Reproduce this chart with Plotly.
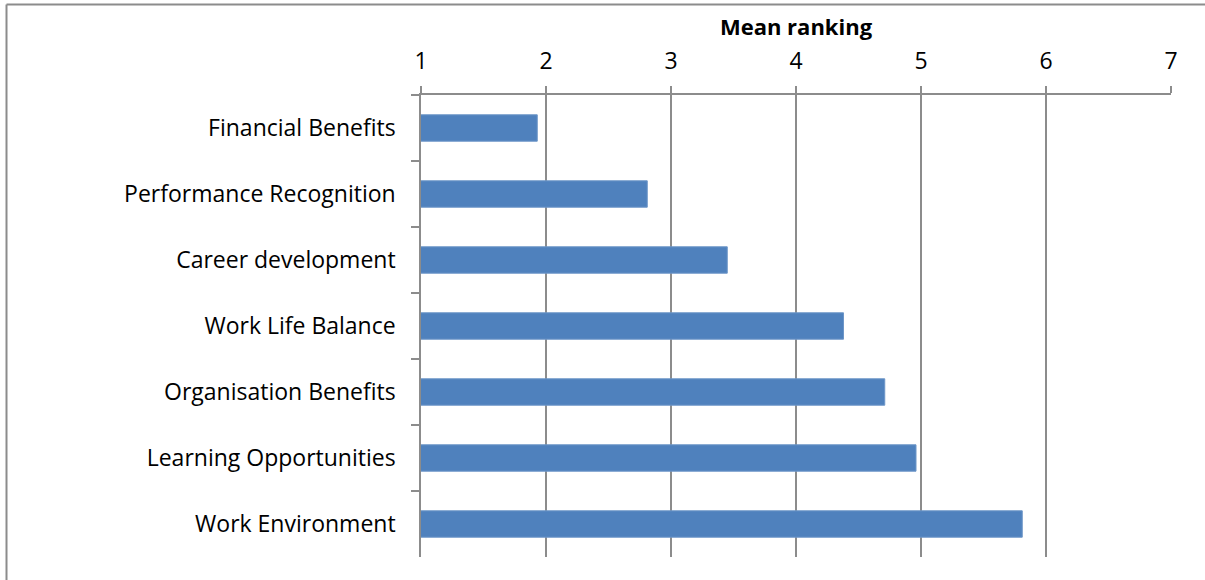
import plotly.graph_objects as go

categories = [
    "Financial Benefits",
    "Performance Recognition",
    "Career development",
    "Work Life Balance",
    "Organisation Benefits",
    "Learning Opportunities",
    "Work Environment",
]
mean_ranking = [1.93, 2.81, 3.45, 4.38, 4.71, 4.96, 5.81]
x_ticks = [1, 2, 3, 4, 5, 6, 7]

W, H = 1205, 580
L, R, T, B = 421, 34, 95, 23
pw, ph = W - L - R, H - T - B

def px_x(p):
    return (p - L) / pw

def px_y(p):
    return (H - B - p) / ph

GRAY = "#8c8c8c"
FONT = "'Open Sans', 'Noto Sans', sans-serif"
FS = 23

fig = go.Figure(
    go.Bar(
        x=mean_ranking,
        y=categories,
        orientation="h",
        marker=dict(color="#4f81bd", line=dict(color="#6d96c8", width=1)),
        width=0.4,
    )
)

fig.update_layout(
    width=W,
    height=H,
    margin=dict(l=L, r=R, t=T, b=B, autoexpand=False),
    paper_bgcolor="white",
    plot_bgcolor="white",
    showlegend=False,
    font=dict(family=FONT, size=FS, color="black"),
    xaxis=dict(
        side="top",
        range=[1, 7],
        tickvals=x_ticks,
        ticktext=[str(v) for v in x_ticks],
        showgrid=True,
        gridcolor=GRAY,
        gridwidth=1.5,
        showline=True,
        linecolor=GRAY,
        linewidth=1.5,
        ticks="outside",
        ticklen=7,
        tickcolor=GRAY,
        tickwidth=1.5,
        zeroline=False,
        ticklabelstandoff=8,
        tickfont=dict(size=FS),
        title=dict(text="<b>Mean ranking</b>", font=dict(size=22), standoff=2),
    ),
    yaxis=dict(
        type="category",
        categoryorder="array",
        categoryarray=categories,
        autorange="reversed",
        showline=True,
        linecolor=GRAY,
        linewidth=1.5,
        ticks="outside",
        tickson="boundaries",
        ticklen=8,
        tickcolor=GRAY,
        tickwidth=1.5,
        showgrid=False,
        zeroline=False,
        ticklabelstandoff=19,
        tickfont=dict(size=FS),
    ),
    shapes=[
        dict(type="line", xref="paper", yref="paper",
             x0=px_x(6.5), x1=px_x(W + 2), y0=px_y(4.5), y1=px_y(4.5),
             line=dict(color=GRAY, width=2)),
        dict(type="line", xref="paper", yref="paper",
             x0=px_x(6.5), x1=px_x(6.5), y0=px_y(4.5), y1=px_y(H + 2),
             line=dict(color=GRAY, width=2)),
    ],
)

fig.write_html("out.html")
